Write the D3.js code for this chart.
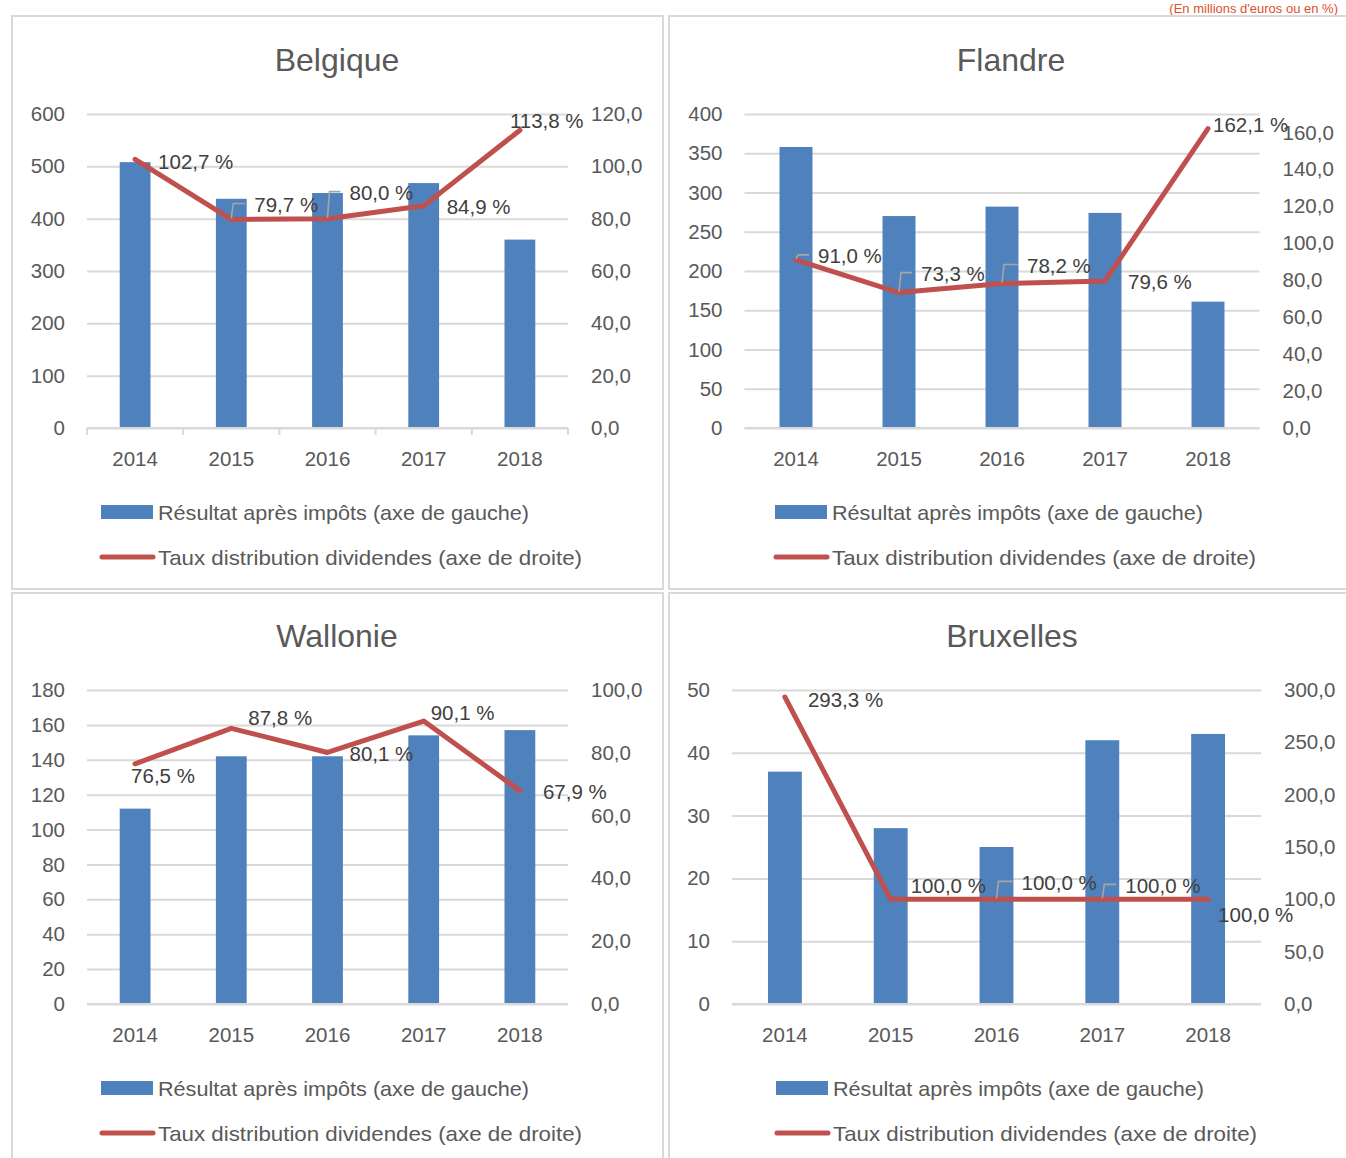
<!DOCTYPE html>
<html><head><meta charset="utf-8">
<script src="https://cdn.jsdelivr.net/npm/d3@7"></script>
<style>
html,body{margin:0;padding:0;background:#fff;}
svg{display:block;}
text{font-family:"Liberation Sans",Arial,sans-serif;}
</style></head>
<body>
<svg id="chart" width="1346" height="1158"></svg>
<script>
// ---- data ----
const years = ["2014","2015","2016","2017","2018"];
const belgiqueResultat = [508, 438, 449, 468, 360];
const belgiqueTaux = [102.7, 79.7, 80.0, 84.9, 113.8];
const flandreResultat = [358, 270, 282, 274, 161];
const flandreTaux = [91.0, 73.3, 78.2, 79.6, 162.1];
const wallonieResultat = [112, 142, 142, 154, 157];
const wallonieTaux = [76.5, 87.8, 80.1, 90.1, 67.9];
const bruxellesResultat = [37, 28, 25, 42, 43];
const bruxellesTaux = [293.3, 100.0, 100.0, 100.0, 100.0];

const belgiqueLeftTicks = [0,100,200,300,400,500,600];
const belgiqueRightTicks = [0,20,40,60,80,100,120];
const flandreLeftTicks = [0,50,100,150,200,250,300,350,400];
const flandreRightTicks = [0,20,40,60,80,100,120,140,160];
const wallonieLeftTicks = [0,20,40,60,80,100,120,140,160,180];
const wallonieRightTicks = [0,20,40,60,80,100];
const bruxellesLeftTicks = [0,10,20,30,40,50];
const bruxellesRightTicks = [0,50,100,150,200,250,300];

const titles = ["Belgique","Flandre","Wallonie","Bruxelles"];
const legendBar = "Résultat après impôts (axe de gauche)";
const legendLine = "Taux distribution dividendes (axe de droite)";
const unitNote = "(En millions d'euros ou en %)";

// ---- layout (positions/styles) ----
const panels = [
  {title:titles[0], bars:belgiqueResultat, rates:belgiqueTaux, lt:belgiqueLeftTicks, rt:belgiqueRightTicks,
   leftMax:600, rightMax:120, box:[12,16,651,573], plot:[87,568,114,428], titleX:337, tickMarks:true, legX:101, legY:512,
   lab:[[23,2,0],[23,-15,1],[22,-26,1],[23,1,0],[-10,-10,0]]},
  {title:titles[1], bars:flandreResultat, rates:flandreTaux, lt:flandreLeftTicks, rt:flandreRightTicks,
   leftMax:400, rightMax:170, box:[669,16,690,573], plot:[744.5,1259.5,114,428], titleX:1011, tickMarks:false, legX:775, legY:512,
   lab:[[22,-4,1],[22,-19,1],[25,-18,1],[23,1,0],[5,-4,0]]},
  {title:titles[2], bars:wallonieResultat, rates:wallonieTaux, lt:wallonieLeftTicks, rt:wallonieRightTicks,
   leftMax:180, rightMax:100, box:[12,593,651,580], plot:[87,568,690,1004], titleX:337, tickMarks:false, legX:101, legY:1088,
   lab:[[-4,12,0],[17,-11,0],[22,1,0],[7,-9,0],[23,1,0]]},
  {title:titles[3], bars:bruxellesResultat, rates:bruxellesTaux, lt:bruxellesLeftTicks, rt:bruxellesRightTicks,
   leftMax:50, rightMax:300, box:[669,593,690,580], plot:[732,1261,690,1004], titleX:1012, tickMarks:false, legX:776, legY:1088,
   lab:[[23,2,0],[20,-14,0],[25,-17,1],[23,-14,1],[10,15,0]]}
];

const BAR = "#4f81bd", LINE = "#c0504d", GRID = "#d9d9d9", TXT = "#595959", LAB = "#404040";
const FONT = "Liberation Sans, Arial, sans-serif";
const svg = d3.select("#chart");
const fmt = v => d3.format(".1f")(v).replace(".", ",");

svg.append("text").attr("x",1338).attr("y",12.5).attr("text-anchor","end").attr("fill","#e0502d")
  .attr("font-size",13).text(unitNote);

panels.forEach(p => {
  const g = svg.append("g");
  const [bx,by,bw,bh] = p.box;
  g.append("rect").attr("x",bx).attr("y",by).attr("width",bw).attr("height",bh)
    .attr("fill","#fff").attr("stroke",GRID).attr("stroke-width",2);
  const [L,R,T,B] = p.plot;
  const x = d3.scaleBand().domain(years).range([L,R]).paddingInner(0.68).paddingOuter(0.34);
  const yL = d3.scaleLinear().domain([0,p.leftMax]).range([B,T]);
  const yR = d3.scaleLinear().domain([0,p.rightMax]).range([B,T]);
  const cx = d => x(d) + x.bandwidth()/2;

  // title
  g.append("text").attr("x",p.titleX).attr("y",T-54)
    .attr("text-anchor","middle").attr("dominant-baseline","central")
    .attr("font-size",32).attr("fill",TXT).text(p.title);

  // gridlines
  const gl = d3.axisLeft(yL).tickValues(p.lt).tickSize(-(R-L)).tickFormat("");
  const gridG = g.append("g").attr("transform",`translate(${L},0)`).call(gl);
  gridG.select(".domain").remove();
  gridG.selectAll(".tick line").attr("stroke",GRID).attr("stroke-width",2);

  // left axis labels
  const la = d3.axisLeft(yL).tickValues(p.lt).tickSize(0).tickPadding(22).tickFormat(d3.format("d"));
  const laG = g.append("g").attr("transform",`translate(${L},0)`).call(la);
  laG.select(".domain").remove();
  laG.selectAll("text").attr("font-size",20.5).attr("fill",TXT).attr("font-family",FONT);

  // right axis labels
  const ra = d3.axisRight(yR).tickValues(p.rt).tickSize(0).tickPadding(23).tickFormat(fmt);
  const raG = g.append("g").attr("transform",`translate(${R},0)`).call(ra);
  raG.select(".domain").remove();
  raG.selectAll("text").attr("font-size",20.5).attr("fill",TXT).attr("font-family",FONT);

  // bars
  g.selectAll("rect.bar").data(p.bars).join("rect").attr("class","bar")
    .attr("x",(d,i)=>x(years[i])).attr("width",x.bandwidth())
    .attr("y",d=>yL(d)).attr("height",d=>B-yL(d)).attr("fill",BAR);

  // x axis
  const xa = d3.axisBottom(x).tickSize(0).tickPadding(23);
  const xaG = g.append("g").attr("transform",`translate(0,${B})`).call(xa);
  xaG.select(".domain").attr("stroke",GRID).attr("stroke-width",2)
    .attr("d",`M${L},0H${R}`);
  xaG.selectAll("text").attr("font-size",20.5).attr("fill",TXT).attr("font-family",FONT);
  if (p.tickMarks) {
    const step = x.step();
    const edges = d3.range(years.length+1).map(i => L + i*step);
    xaG.selectAll("line.edge").data(edges).join("line").attr("class","edge")
      .attr("x1",d=>d).attr("x2",d=>d).attr("y1",0).attr("y2",7)
      .attr("stroke",GRID).attr("stroke-width",2);
  }

  // line
  const line = d3.line().x((d,i)=>cx(years[i])).y(d=>yR(d));
  g.append("path").datum(p.rates).attr("d",line).attr("fill","none")
    .attr("stroke",LINE).attr("stroke-width",5).attr("stroke-linejoin","round").attr("stroke-linecap","round");

  // data labels
  p.rates.forEach((v,i) => {
    const px = cx(years[i]), py = yR(v);
    const [dx,dy,lead] = p.lab[i];
    if (lead) {
      g.append("path").attr("d",`M${px},${py-1}L${px+2},${py+dy-1}L${px+dx-9},${py+dy-1}`)
        .attr("fill","none").attr("stroke","#a6a6a6").attr("stroke-width",1.6);
    }
    g.append("text").attr("x",px+dx).attr("y",py+dy).attr("dominant-baseline","central")
      .attr("font-size",20.5).attr("fill",LAB).text(fmt(v) + " %");
  });

  // legend
  g.append("rect").attr("x",p.legX).attr("y",p.legY-7).attr("width",52).attr("height",14).attr("fill",BAR);
  g.append("text").attr("x",p.legX+57).attr("y",p.legY).attr("dominant-baseline","central")
    .attr("font-size",21).attr("fill",TXT).attr("textLength",371).attr("lengthAdjust","spacingAndGlyphs").text(legendBar);
  g.append("line").attr("x1",p.legX+1).attr("x2",p.legX+52).attr("y1",p.legY+45).attr("y2",p.legY+45)
    .attr("stroke",LINE).attr("stroke-width",5).attr("stroke-linecap","round");
  g.append("text").attr("x",p.legX+57).attr("y",p.legY+45).attr("dominant-baseline","central")
    .attr("font-size",21).attr("fill",TXT).attr("textLength",424).attr("lengthAdjust","spacingAndGlyphs").text(legendLine);
});
</script>
</body></html>
